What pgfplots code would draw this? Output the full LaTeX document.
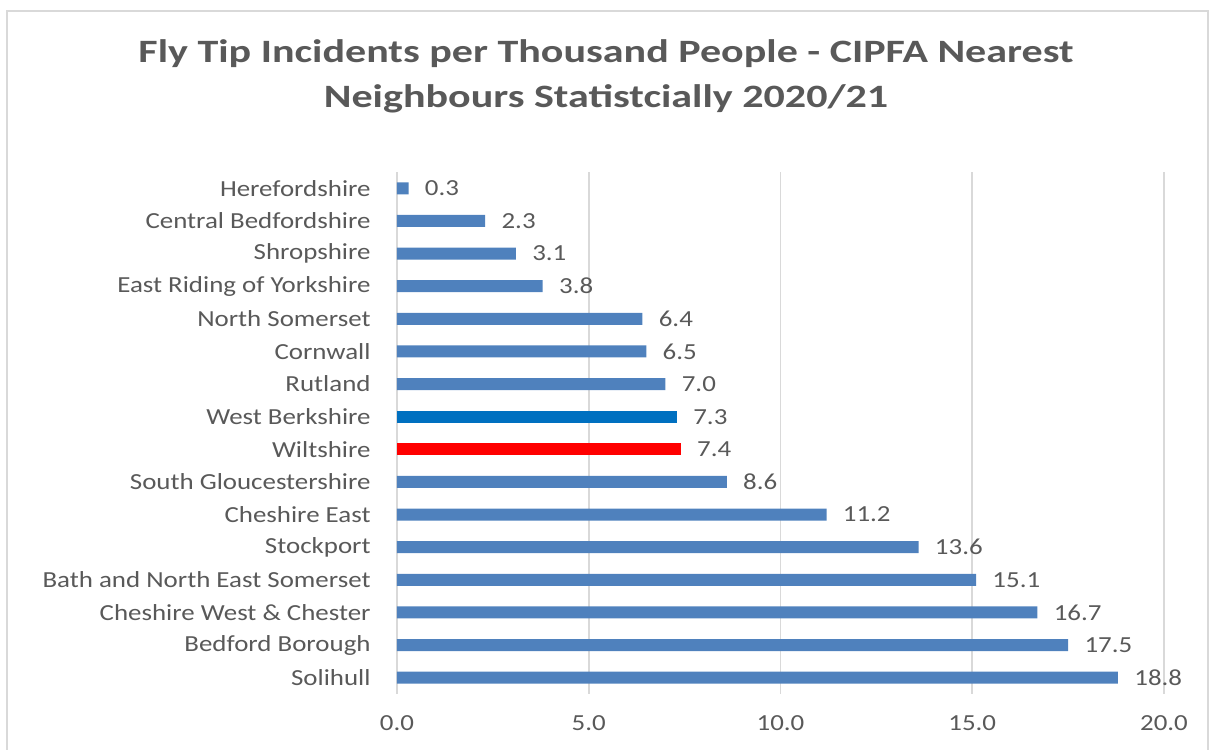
\documentclass[border=0pt]{standalone}
\usepackage{pgfplots}
\pgfplotsset{compat=1.18}
\usepackage{fontspec}
\setmainfont[FakeStretch=1.17]{Carlito}
\newfontfamily\titlefont[FakeStretch=1.29]{Carlito}
\definecolor{txt}{HTML}{595959}
\definecolor{barblue}{HTML}{4F81BD}
\definecolor{wb}{HTML}{0070C0}
\definecolor{gridc}{HTML}{D9D9D9}
\begin{document}
\begin{tikzpicture}[x=1pt,y=1pt]
\useasboundingbox (-198.5,-27.5) rectangle (408.5,347);
\draw[gridc, line width=0.9pt] (-195,-40) rectangle (405.5,341.5);
\node[font=\titlefont\fontsize{16.3}{22.5}\selectfont\bfseries, text=txt, align=center] at (104.5,309) {Fly Tip Incidents per Thousand People - CIPFA Nearest\\Neighbours Statistcially 2020/21};
\begin{axis}[
  at={(0,0)}, anchor=south west,
  scale only axis, width=383.5pt, height=261pt,
  xbar, bar shift=0pt, bar width=6pt,
  xmin=0, xmax=20, ymin=-0.5, ymax=15.5, y dir=reverse,
  xtick={0,5,10,15,20},
  xticklabels={0.0,5.0,10.0,15.0,20.0},
  ytick={0,...,15},
  yticklabels={Herefordshire,Central Bedfordshire,Shropshire,East Riding of Yorkshire,North Somerset ,Cornwall,Rutland,West Berkshire,Wiltshire,South Gloucestershire,Cheshire East,Stockport,Bath and North East Somerset,Cheshire West \& Chester,Bedford Borough,Solihull},
  major tick length=0pt,
  axis x line*=bottom, axis y line*=left,
  x axis line style={draw=none},
  y axis line style={gridc, line width=0.9pt},
  xmajorgrids, grid style={gridc, line width=0.9pt},
  ticklabel style={font=\fontsize{11.5}{13}\selectfont, text=txt},
  y tick label style={anchor=east, inner sep=0pt, xshift=-13pt},
  x tick label style={anchor=center, inner sep=0pt, yshift=-14.5pt},
  nodes near coords,
  nodes near coords style={font=\fontsize{11.5}{13}\selectfont, text=txt, anchor=west, inner sep=0pt, xshift=8pt, /pgf/number format/fixed, /pgf/number format/fixed zerofill, /pgf/number format/precision=1, /pgf/number format/assume math mode=true},
  point meta=x,
]
\addplot[fill=barblue, draw=none] coordinates {
(0.3,0) (2.3,1) (3.1,2) (3.8,3) (6.4,4) (6.5,5) (7.0,6) (8.6,9) (11.2,10) (13.6,11) (15.1,12) (16.7,13) (17.5,14) (18.8,15)};
\addplot[fill=wb, draw=none] coordinates {(7.3,7)};
\addplot[fill=red, draw=none] coordinates {(7.4,8)};
\end{axis}
\end{tikzpicture}
\end{document}
